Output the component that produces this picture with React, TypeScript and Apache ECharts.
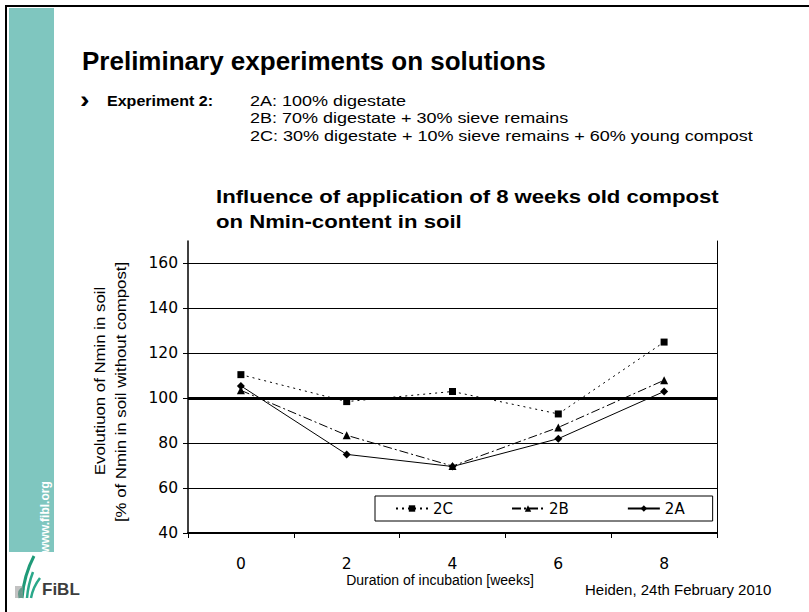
import React, { useEffect, useRef } from "react";
import * as echarts from "echarts";

const categories = ["0", "2", "4", "6", "8"];
const series2C = [110.5, 98.5, 103, 93, 125];
const series2B = [103.5, 83.5, 69.8, 87, 108];
const series2A = [105.5, 75, 69.6, 82, 103];
const gridValues = [60, 80, 120, 140, 160];
const referenceValue = 100;

const FONT = "Liberation Sans, Arial, sans-serif";
const WIDE = "DejaVu Sans, sans-serif";

export default function App() {
  const ref = useRef<HTMLDivElement>(null);
  useEffect(() => {
    document.body.style.margin = "0";
    const chart = echarts.init(ref.current!, null, { renderer: "svg" });
    const gridMark = {
      silent: true,
      symbol: ["none", "none"],
      label: { show: false },
      emphasis: { disabled: true },
      data: [
        ...gridValues.map((v) => ({ yAxis: v, lineStyle: { color: "#000", width: 1, type: "solid" } })),
        { yAxis: referenceValue, lineStyle: { color: "#000", width: 3, type: "solid" } },
      ],
    };
    const t = (x: number, y: number, text: string, font: string, scaleX = 1, extra: any = {}) => ({
      type: "text",
      x,
      y,
      scaleX,
      silent: true,
      style: { text, fill: "#000", font, textVerticalAlign: "middle", ...extra },
    });
    chart.setOption({
      animation: false,
      backgroundColor: "#fff",
      textStyle: { fontFamily: FONT },
      grid: { left: 188, right: 92, top: 241, bottom: 79 },
      legend: {
        left: 375,
        top: 496,
        padding: [5, 28, 5, 20],
        itemGap: 58,
        itemWidth: 32,
        itemHeight: 8,
        borderColor: "#000",
        borderWidth: 1,
        textStyle: { fontFamily: WIDE, fontSize: 15, color: "#000" },
        data: ["2C", "2B", "2A"],
      },
      xAxis: {
        type: "category",
        data: categories,
        boundaryGap: true,
        axisLine: { lineStyle: { color: "#000", width: 2 } },
        axisTick: { show: true, length: 5, lineStyle: { color: "#000", width: 1 } },
        axisLabel: { color: "#000", fontSize: 15.5, fontFamily: WIDE, margin: 23 },
        splitLine: { show: false },
      },
      yAxis: [
        {
          type: "value",
          min: 40,
          max: 170,
          interval: 20,
          axisLine: { show: true, lineStyle: { color: "#000", width: 1.5 } },
          axisTick: { show: true, length: 5, lineStyle: { color: "#000" } },
          axisLabel: { color: "#000", fontSize: 15.5, fontFamily: WIDE, margin: 10, showMaxLabel: false },
          splitLine: { show: false },
        },
        {
          type: "value",
          position: "right",
          min: 40,
          max: 170,
          interval: 20,
          axisLine: { show: true, lineStyle: { color: "#000", width: 1 } },
          axisTick: { show: false },
          axisLabel: { show: false },
          splitLine: { show: false },
        },
      ],
      series: [
        {
          name: "2C",
          type: "line",
          data: series2C,
          symbol: "rect",
          symbolSize: 7,
          itemStyle: { color: "#000" },
          lineStyle: { color: "#000", width: 1, type: [2, 4] },
          z: 5,
        },
        {
          name: "2B",
          type: "line",
          data: series2B,
          symbol: "triangle",
          symbolSize: 8,
          itemStyle: { color: "#000" },
          lineStyle: { color: "#000", width: 1, type: [9, 3, 2, 3] },
          z: 5,
        },
        {
          name: "2A",
          type: "line",
          data: series2A,
          symbol: "diamond",
          symbolSize: 8,
          itemStyle: { color: "#000" },
          lineStyle: { color: "#000", width: 1, type: "solid" },
          z: 5,
          markLine: gridMark,
        },
      ],
      graphic: [
        { type: "rect", shape: { x: 9, y: 8, width: 45, height: 544 }, style: { fill: "#7fc6bf" }, silent: true },
        { type: "rect", shape: { x: 5, y: 5, width: 804, height: 2 }, style: { fill: "#000" }, silent: true },
        { type: "rect", shape: { x: 5, y: 5, width: 2, height: 607 }, style: { fill: "#000" }, silent: true },
        {
          type: "text",
          x: 45,
          y: 517,
          rotation: Math.PI / 2,
          silent: true,
          style: { text: "www.fibl.org", fill: "#fff", font: `bold 12px ${FONT}`, textAlign: "center", textVerticalAlign: "middle" },
        },
        t(82, 61, "Preliminary experiments on solutions", `bold 26px ${FONT}`),
        t(80, 100, "›", `bold 24px ${FONT}`, 1.2),
        t(107, 101, "Experiment 2:", `bold 15px ${FONT}`, 1.07),
        t(250, 101, "2A: 100% digestate", `15px ${FONT}`, 1.2),
        t(250, 118, "2B: 70% digestate + 30% sieve remains", `15px ${FONT}`, 1.2),
        t(250, 136, "2C: 30% digestate + 10% sieve remains + 60% young compost", `15px ${FONT}`, 1.2),
        t(216, 197, "Influence of application of 8 weeks old compost", `bold 18px ${FONT}`, 1.23),
        t(216, 222, "on Nmin-content in soil", `bold 18px ${FONT}`, 1.23),
        {
          type: "text",
          x: 100,
          y: 381,
          rotation: Math.PI / 2,
          scaleX: 1.12,
          silent: true,
          style: { text: "Evolutiuon of Nmin in soil", fill: "#000", font: `15px ${FONT}`, textAlign: "center", textVerticalAlign: "middle" },
        },
        {
          type: "text",
          x: 121,
          y: 392,
          rotation: Math.PI / 2,
          scaleX: 1.12,
          silent: true,
          style: { text: "[% of Nmin in soil without compost]", fill: "#000", font: `15px ${FONT}`, textAlign: "center", textVerticalAlign: "middle" },
        },
        t(440, 580, "Duration of incubation [weeks]", `14px ${FONT}`, 1, { textAlign: "center" }),
        t(585, 590, "Heiden, 24th February 2010", `14px ${FONT}`, 1.07),
        // FiBL logo
        { type: "bezierCurve", silent: true, shape: { x1: 20, y1: 598, x2: 24, y2: 588, cpx1: 18, cpy1: 590 }, style: { stroke: "#1f9a78", lineWidth: 3, fill: "none" } },
        { type: "bezierCurve", silent: true, shape: { x1: 22, y1: 598, x2: 34, y2: 556, cpx1: 24, cpy1: 575 }, style: { stroke: "#1f9a78", lineWidth: 3, fill: "none" } },
        { type: "bezierCurve", silent: true, shape: { x1: 27, y1: 598, x2: 33, y2: 572, cpx1: 28, cpy1: 585 }, style: { stroke: "#2aa88a", lineWidth: 2.5, fill: "none" } },
        { type: "bezierCurve", silent: true, shape: { x1: 31, y1: 598, x2: 40, y2: 578, cpx1: 33, cpy1: 587 }, style: { stroke: "#2aa88a", lineWidth: 2.5, fill: "none" } },
        { type: "rect", silent: true, shape: { x: 15, y: 586, width: 8, height: 12 }, style: { fill: "#9a9a9a", opacity: 0.6 } },
        t(42, 589, "FiBL", `bold 17px ${FONT}`, 1, { fill: "#3d3d3d" }),
      ],
    });
    return () => chart.dispose();
  }, []);
  return <div ref={ref} style={{ width: 809, height: 612 }} />;
}
